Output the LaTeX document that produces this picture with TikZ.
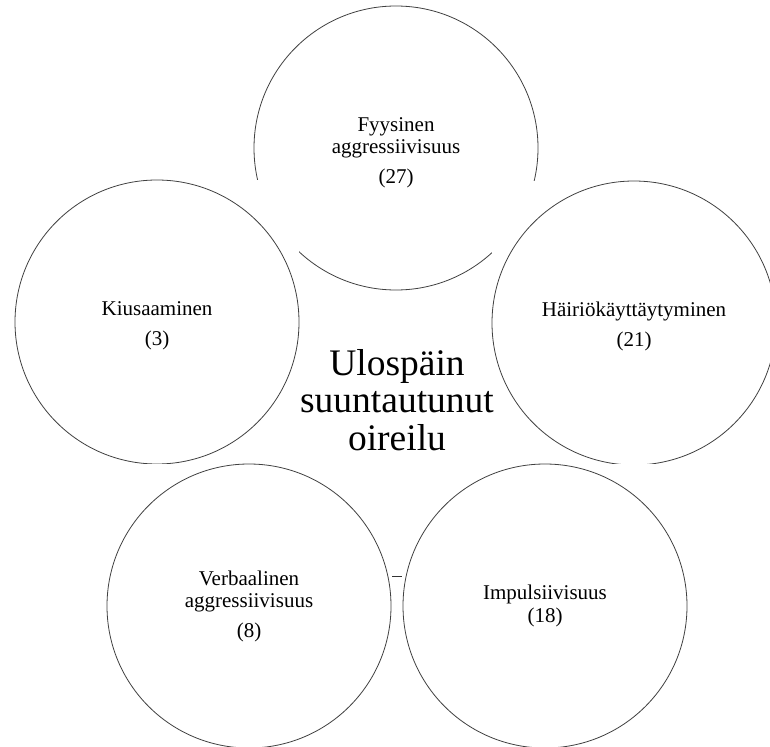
\documentclass[tikz,border=0pt]{standalone}
\usepackage{fontspec}
\setmainfont{Liberation Serif}
\newcommand{\lowerby}[1]{\rule{0pt}{#1}}
\begin{document}
\begin{tikzpicture}
[x=1pt,y=-1pt,
  bubbledecorate/.style={shape=circle,minimum size=284pt,inner sep=0pt,
    draw=black!75,line width=0.8pt,align=center,
    font=\fontsize{21}{30}\selectfont},%
  coverdecorate/.style={fill=white},%
  titledecorate/.style={align=center,inner sep=0pt,
    font=\fontsize{37.5}{37.5}\selectfont},%
  linedecorate/.style={-,draw=black!80,line width=0.8pt}]
\useasboundingbox (0,0) rectangle (770,746);
%% circles, each one hiding what lies under its box
\foreach \nodename/\x/\y/\nodetext in {
  fyysinen/396/148/{\lowerby{24pt}Fyysinen\\[-8pt]aggressiivisuus\\(27)},
  kiusaaminen/157/322/{\lowerby{22pt}Kiusaaminen\\(3)},
  hairio/634/323/{\lowerby{22pt}Häiriökäyttäytyminen\\(21)},
  verbaalinen/249/606/{Verbaalinen\\[-8pt]aggressiivisuus\\(8)},
  impulsiivisuus/545/606/{Impulsiivisuus\\[-7pt](18)}} {
  \fill[coverdecorate] (\x-142,\y-142) rectangle (\x+142,\y+142);
  \node (\nodename) at (\x,\y) [bubbledecorate] {\nodetext};
}
%% small mark between the lower circles
\coordinate (markleft) at (392,576);
\coordinate (markright) at (402,576);
\draw[linedecorate] (markleft) -- (markright);
%% title in the middle
\node (title) at (397,400) [titledecorate] {Ulospäin\\suuntautunut\\oireilu};
\end{tikzpicture}
\end{document}
